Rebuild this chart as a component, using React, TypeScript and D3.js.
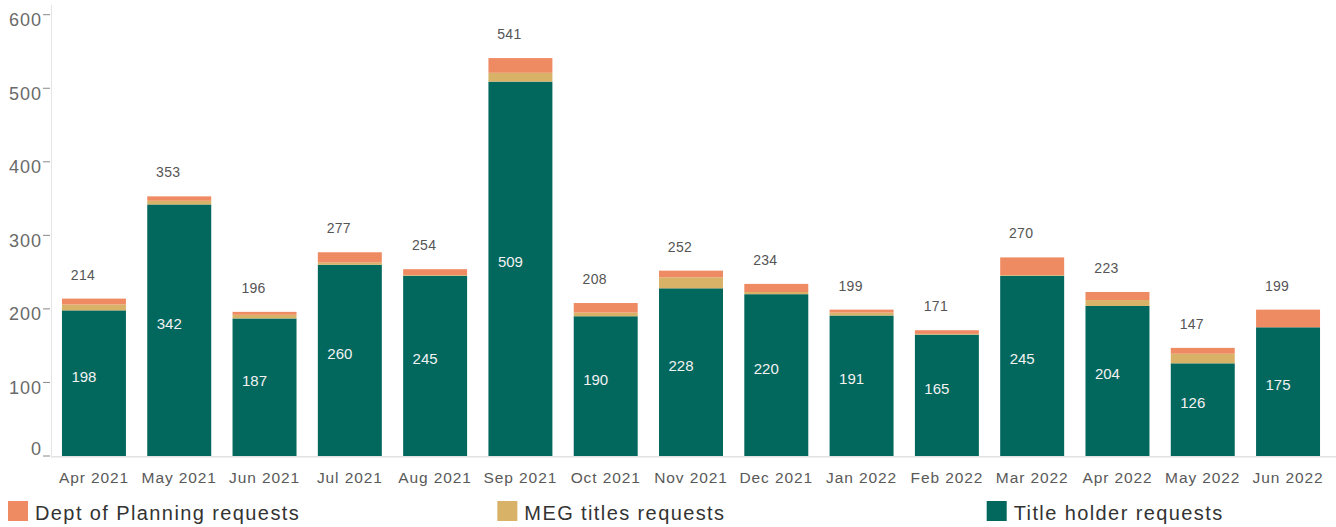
import React from "react";
import * as d3 from "d3";

const months = [
  "Apr 2021", "May 2021", "Jun 2021", "Jul 2021", "Aug 2021", "Sep 2021", "Oct 2021",
  "Nov 2021", "Dec 2021", "Jan 2022", "Feb 2022", "Mar 2022", "Apr 2022", "May 2022", "Jun 2022",
];
const titleHolder = [198, 342, 187, 260, 245, 509, 190, 228, 220, 191, 165, 245, 204, 126, 175];
const megTitles = [8, 5, 5, 3, 1, 12, 5, 15, 3, 4, 1, 1, 8, 13, 0];
const deptPlanning = [8, 6, 4, 14, 8, 20, 13, 9, 11, 4, 5, 24, 11, 8, 24];
const yTicks = [0, 100, 200, 300, 400, 500, 600];

const seriesKeys = ["title", "meg", "plan"];
const seriesLabels: Record<string, string> = {
  plan: "Dept of Planning requests",
  meg: "MEG titles requests",
  title: "Title holder requests",
};
const legendKeys = ["plan", "meg", "title"];
const colors: Record<string, string> = {
  title: "#02675D",
  meg: "#D8B267",
  plan: "#EF8B62",
};

const W = 1336;
const H = 527;
const FONT = "'Liberation Sans', Arial, Helvetica, sans-serif";

export default function App() {
  const rows = months.map((m, i) => ({
    month: m,
    title: titleHolder[i],
    meg: megTitles[i],
    plan: deptPlanning[i],
  }));
  const stacked = d3.stack<any>().keys(seriesKeys)(rows);

  const x = d3
    .scaleBand<string>()
    .domain(months)
    .range([51.3, 1330.7])
    .paddingInner(0.25)
    .paddingOuter(0.125);
  const y = d3.scaleLinear().domain([0, 600]).range([456, 14.7]);
  const legendX = d3.scalePoint<string>().domain(legendKeys).range([8, 986.7]);

  const bw = x.bandwidth();
  const totals = rows.map((r) => r.title + r.meg + r.plan);

  return (
    <svg
      width={W}
      height={H}
      style={{ position: "absolute", left: 0, top: 0, background: "#fff" }}
      fontFamily={FONT}
    >
      {/* axis lines */}
      <line x1={51.5} x2={51.5} y1={5} y2={y(0)} stroke="#e4e4e4" strokeWidth={1} />
      <line x1={51} x2={W} y1={y(0) + 0.75} y2={y(0) + 0.75} stroke="#e2e2e2" strokeWidth={1.5} />

      {/* y ticks and labels */}
      {yTicks.map((t) => (
        <g key={t}>
          <line x1={43} x2={50} y1={y(t)} y2={y(t)} stroke="#888" strokeWidth={1} />
          <text
            x={42}
            y={Math.min(y(t) + 11.5, y(0) - 1)}
            textAnchor="end"
            fontSize={18}
            letterSpacing={1}
            fill="#6a6a6a"
          >
            {t}
          </text>
        </g>
      ))}

      {/* bars */}
      {stacked.map((s) => (
        <g key={s.key} fill={colors[s.key]}>
          {s.map((d: any, i: number) => (
            <rect
              key={i}
              x={x(months[i])}
              y={y(d[1])}
              width={bw}
              height={Math.max(0, y(d[0]) - y(d[1]))}
            />
          ))}
        </g>
      ))}

      {/* inside labels */}
      {rows.map((r) => (
        <text
          key={"in" + r.month}
          x={(x(r.month) as number) + bw / 2 - 10}
          y={(y(0) + y(r.title)) / 2 - 1.5}
          textAnchor="middle"
          fontSize={15}
          fill="#f2f2f2"
        >
          {r.title}
        </text>
      ))}

      {/* totals */}
      {rows.map((r, i) => (
        <text
          key={"tot" + r.month}
          x={(x(r.month) as number) + bw / 2 - 11}
          y={y(totals[i]) - 19}
          textAnchor="middle"
          fontSize={14}
          letterSpacing={0.3}
          fill="#555"
        >
          {totals[i]}
        </text>
      ))}

      {/* x labels */}
      {months.map((m) => (
        <text
          key={"x" + m}
          x={(x(m) as number) + bw / 2}
          y={483}
          textAnchor="middle"
          fontSize={15.5}
          letterSpacing={0.9}
          fill="#595959"
        >
          {m}
        </text>
      ))}

      {/* legend */}
      {legendKeys.map((k) => (
        <g key={"lg" + k} transform={`translate(${legendX(k)},0)`}>
          <rect x={0} y={501} width={20} height={20} fill={colors[k]} />
          <text x={27} y={519.5} fontSize={20} letterSpacing={1.4} fill="#333">
            {seriesLabels[k]}
          </text>
        </g>
      ))}
    </svg>
  );
}
